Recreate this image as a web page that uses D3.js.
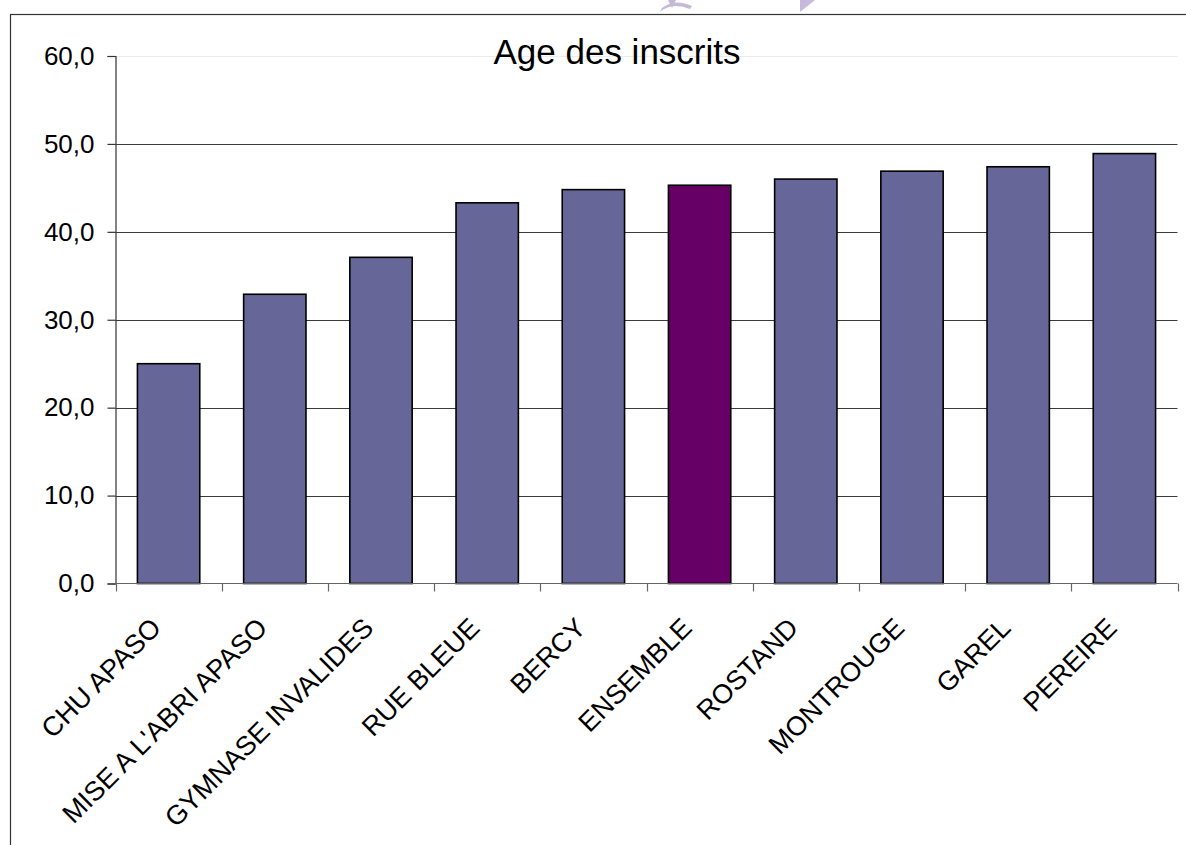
<!DOCTYPE html>
<html>
<head>
<meta charset="utf-8">
<script src="https://cdn.jsdelivr.net/npm/d3@7/dist/d3.min.js"></script>
<style>
  html, body { margin: 0; padding: 0; background: #fff; }
  svg { display: block; font-family: "Liberation Sans", Arial, sans-serif; }
</style>
</head>
<body>
<svg id="chart" width="1186" height="845"></svg>
<script>
const categories = ["CHU APASO", "MISE A L'ABRI APASO", "GYMNASE INVALIDES", "RUE BLEUE", "BERCY", "ENSEMBLE", "ROSTAND", "MONTROUGE", "GAREL", "PEREIRE"];
const ages = [25.0, 32.9, 37.1, 43.3, 44.8, 45.3, 46.0, 46.9, 47.4, 48.9];
const yTicks = [0, 10, 20, 30, 40, 50, 60];
const title = "Age des inscrits";
const highlighted = "ENSEMBLE";

const svg = d3.select("#chart");

// watermark fragments at top
const wm = svg.append("g").attr("fill", "#b9a8cf").attr("opacity", 0.8);
wm.append("path").attr("d", "M660,12 Q672,2 690,9 L692,6 Q674,-2 662,8 Z");
wm.append("path").attr("d", "M668,0 L676,0 L672,8 Z");
wm.append("path").attr("d", "M800,0 L815,0 L800,12 Z");

// outer frame
svg.append("rect")
  .attr("x", 10.5).attr("y", 14.5)
  .attr("width", 1300).attr("height", 1000)
  .attr("fill", "none").attr("stroke", "#333").attr("stroke-width", 1.2);

const x = d3.scaleBand().domain(categories).range([115.5, 1177.5])
  .paddingInner(0.413).paddingOuter(0.2065);
const y = d3.scaleLinear().domain([0, 60]).range([583.5, 56]);

// gridlines
svg.append("g").selectAll("line").data(yTicks.filter(d => d > 0)).join("line")
  .attr("x1", 115.5).attr("x2", 1177.5)
  .attr("y1", d => Math.round(y(d)) + 0.5).attr("y2", d => Math.round(y(d)) + 0.5)
  .attr("stroke", d => d === 60 ? "#ececec" : "#3a3a3a").attr("stroke-width", 1.2);

// title
svg.append("text")
  .attr("x", 617).attr("y", 64)
  .attr("text-anchor", "middle")
  .attr("font-size", 35).attr("fill", "#000")
  .text(title);

// bars
svg.append("g").selectAll("rect").data(categories).join("rect")
  .attr("x", d => x(d))
  .attr("y", (d, i) => y(ages[i]))
  .attr("width", x.bandwidth())
  .attr("height", (d, i) => y(0) - y(ages[i]))
  .attr("fill", d => d === highlighted ? "#660066" : "#666699")
  .attr("stroke", "#000").attr("stroke-width", 1.6);

// y axis
const yAxis = d3.axisLeft(y).tickValues(yTicks).tickSize(8).tickPadding(13)
  .tickFormat(d => d3.format(".1f")(d).replace(".", ","));
const gy = svg.append("g").attr("transform", "translate(115.5,0)").call(yAxis);
gy.select(".domain").attr("stroke", "#333").attr("stroke-width", 1.2);
gy.selectAll(".tick line").attr("stroke", "#333").attr("stroke-width", 1.2);
gy.selectAll(".tick text").attr("font-size", 26).attr("fill", "#000")
  .attr("font-family", "'Liberation Sans', Arial, sans-serif");

// x axis line and ticks at band boundaries
const step = x.step();
const bounds = d3.range(categories.length + 1).map(i => 115.5 + i * step);
svg.append("line").attr("x1", 115.5).attr("x2", 1177.5)
  .attr("y1", y(0)).attr("y2", y(0))
  .attr("stroke", "#666").attr("stroke-width", 1.2);
svg.append("g").selectAll("line").data(bounds).join("line")
  .attr("x1", d => Math.round(d) + 0.5).attr("x2", d => Math.round(d) + 0.5)
  .attr("y1", y(0)).attr("y2", y(0) + 8)
  .attr("stroke", "#666").attr("stroke-width", 1.2);

// category labels
svg.append("g").selectAll("text").data(categories).join("text")
  .attr("transform", d => `translate(${x(d) + x.bandwidth() / 2 - 6},${y(0) + 46}) rotate(-45)`)
  .attr("text-anchor", "end")
  .attr("font-size", 27).attr("fill", "#000")
  .text(d => d);
</script>
</body>
</html>
